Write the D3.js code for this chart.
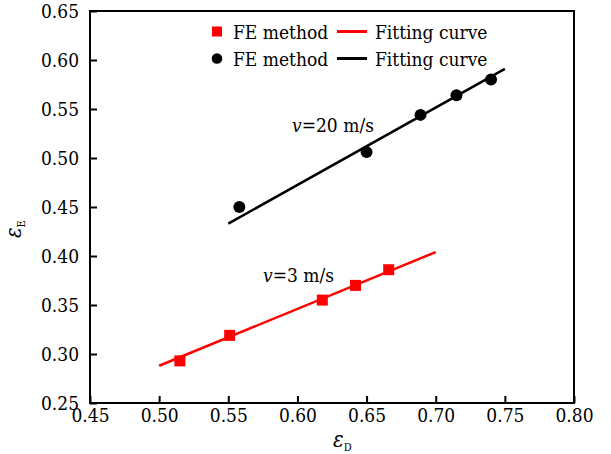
<!DOCTYPE html>
<html><head><meta charset="utf-8">
<script src="https://cdn.jsdelivr.net/npm/d3@7"></script>
<style>body{margin:0;background:#fff} svg text{font-family:'DejaVu Serif Condensed','DejaVu Serif',serif;font-stretch:condensed}</style>
</head><body>
<svg id="c" width="611" height="454"></svg>
<script>
const xTicks = [0.45, 0.50, 0.55, 0.60, 0.65, 0.70, 0.75, 0.80];
const yTicks = [0.25, 0.30, 0.35, 0.40, 0.45, 0.50, 0.55, 0.60, 0.65];
const lowSpeedX = [0.515, 0.551, 0.618, 0.642, 0.666];
const lowSpeedY = [0.293, 0.319, 0.355, 0.370, 0.386];
const lowFitX = [0.50, 0.70];
const lowFitY = [0.288, 0.404];
const highSpeedX = [0.558, 0.650, 0.689, 0.715, 0.740];
const highSpeedY = [0.450, 0.506, 0.544, 0.564, 0.580];
const highFitX = [0.55, 0.75];
const highFitY = [0.433, 0.591];
const legendLabels = ["FE method", "Fitting curve"];
const speedLabels = ["3 m/s", "20 m/s"];

const FONT = "'DejaVu Serif Condensed', 'DejaVu Serif', serif";
const FS = 19;
const svg = d3.select("#c").attr("font-family", FONT);
const L = 90, R = 574, T = 11, B = 403;
const x = d3.scaleLinear().domain([0.45, 0.80]).range([L, R]);
const y = d3.scaleLinear().domain([0.25, 0.65]).range([B, T]);
const RED = "#f00";

// axes
const gx = svg.append("g").attr("transform", `translate(0,${B})`)
  .call(d3.axisBottom(x).tickValues(xTicks).tickFormat(d3.format(".2f")).tickSize(-7).tickPadding(6));
const gy = svg.append("g").attr("transform", `translate(${L},0)`)
  .call(d3.axisLeft(y).tickValues(yTicks).tickFormat(d3.format(".2f")).tickSize(-7).tickPadding(11));
[gx, gy].forEach(g => {
  g.attr("font-family", FONT).attr("font-size", FS);
  g.select(".domain").remove();
  g.selectAll(".tick line").attr("stroke", "#000").attr("stroke-width", 2);
  g.selectAll(".tick text").attr("font-size", FS).attr("fill", "#000").attr("font-family", FONT);
});
svg.append("rect").attr("x", L).attr("y", T).attr("width", R - L).attr("height", B - T)
  .attr("fill", "none").attr("stroke", "#000").attr("stroke-width", 2);

// fit lines
const line = d3.line().x(d => x(d[0])).y(d => y(d[1]));
svg.append("path").datum(lowFitX.map((v, i) => [v, lowFitY[i]]))
  .attr("d", line).attr("stroke", RED).attr("stroke-width", 2.5).attr("fill", "none");
svg.append("path").datum(highFitX.map((v, i) => [v, highFitY[i]]))
  .attr("d", line).attr("stroke", "#000").attr("stroke-width", 2.5).attr("fill", "none");

// markers
const s = 11;
svg.selectAll(".sq").data(lowSpeedX.map((v, i) => [v, lowSpeedY[i]])).enter().append("rect")
  .attr("x", d => x(d[0]) - s / 2).attr("y", d => y(d[1]) - s / 2)
  .attr("width", s).attr("height", s).attr("fill", RED);
svg.selectAll(".dot").data(highSpeedX.map((v, i) => [v, highSpeedY[i]])).enter().append("circle")
  .attr("cx", d => x(d[0])).attr("cy", d => y(d[1])).attr("r", 6).attr("fill", "#000");

// speed labels
function speedLabel(tx, ty, lab) {
  const t = svg.append("text").attr("x", tx).attr("y", ty).attr("font-size", FS).attr("fill", "#000");
  t.append("tspan").attr("font-style", "italic").text("v");
  t.append("tspan").text("=" + lab);
}
speedLabel(263, 282, speedLabels[0]);
speedLabel(292, 132, speedLabels[1]);

// legend
const rows = [{c: RED, m: "sq", y: 31.5}, {c: "#000", m: "ci", y: 58.5}];
rows.forEach(r => {
  if (r.m === "sq") svg.append("rect").attr("x", 212).attr("y", r.y - 5).attr("width", 10).attr("height", 10).attr("fill", r.c);
  else svg.append("circle").attr("cx", 217).attr("cy", r.y).attr("r", 5.3).attr("fill", r.c);
  svg.append("text").attr("x", 233).attr("y", r.y + 7).attr("font-size", FS).text(legendLabels[0]);
  svg.append("line").attr("x1", 337).attr("x2", 367).attr("y1", r.y).attr("y2", r.y)
    .attr("stroke", r.c).attr("stroke-width", 3);
  svg.append("text").attr("x", 375).attr("y", r.y + 7).attr("font-size", FS).text(legendLabels[1]);
});

// axis labels
const xl = svg.append("text").attr("x", 333).attr("y", 447).attr("font-size", 22);
xl.append("tspan").attr("font-style", "italic").text("ε");
xl.append("tspan").attr("font-size", 11).attr("dy", 4).text("D");
const yl = svg.append("text").attr("transform", "translate(21,238) rotate(-90)").attr("font-size", 22);
yl.append("tspan").attr("font-style", "italic").text("ε");
yl.append("tspan").attr("font-size", 11).attr("dy", 4).text("E");
</script>
</body></html>
